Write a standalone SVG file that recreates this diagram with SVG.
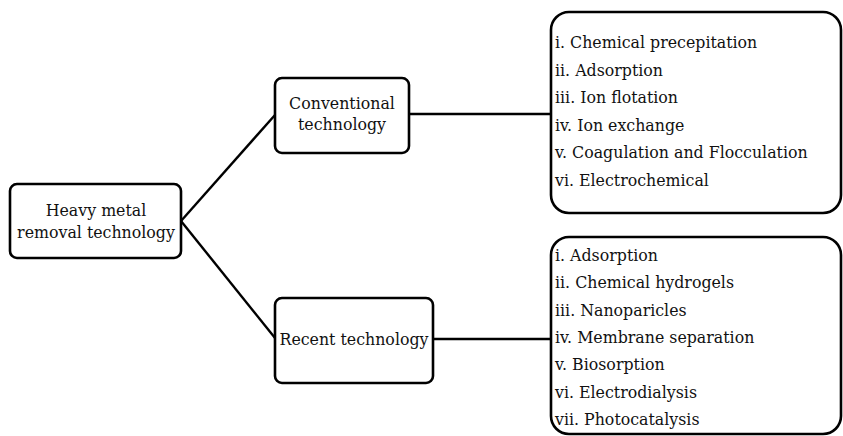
<svg xmlns="http://www.w3.org/2000/svg" width="843" height="436" viewBox="0 0 843 436">
<style>
.box{fill:#fff;stroke:#000;stroke-width:2.6}
text{font-family:'DejaVu Serif','Liberation Serif','Noto Serif',serif;font-size:15.8px;fill:#111}
.c{text-anchor:middle}
.ln{stroke:#000;stroke-width:2.4;fill:none}
</style>
<rect width="843" height="436" fill="#fff"/>
<g id="connectors">
<line class="ln" x1="181" y1="221" x2="275" y2="115"/>
<line class="ln" x1="181" y1="221" x2="275" y2="338"/>
<line class="ln" x1="409" y1="114" x2="551" y2="114"/>
<line class="ln" x1="433" y1="339" x2="551" y2="339"/>
</g>
<g id="heavy">
<rect class="box" x="10" y="184" width="171" height="74" rx="7"/>
<text class="c" x="96" y="216">Heavy metal</text>
<text class="c" x="96" y="238">removal technology</text>
</g>
<g id="conventional">
<rect class="box" x="275" y="78" width="134" height="75" rx="7"/>
<text class="c" x="342" y="109">Conventional</text>
<text class="c" x="342" y="130">technology</text>
</g>
<g id="recent">
<rect class="box" x="275" y="298" width="158" height="85" rx="7"/>
<text class="c" x="354" y="345">Recent technology</text>
</g>
<g id="conv-list">
<rect class="box" x="551" y="12" width="290" height="201" rx="18"/>
<text x="555" y="48">i. Chemical precepitation</text>
<text x="555" y="75.6">ii. Adsorption</text>
<text x="555" y="103.2">iii. Ion flotation</text>
<text x="555" y="130.8">iv. Ion exchange</text>
<text x="555" y="158.4">v. Coagulation and Flocculation</text>
<text x="555" y="186">vi. Electrochemical</text>
</g>
<g id="recent-list">
<rect class="box" x="551" y="237" width="290" height="197" rx="18"/>
<text x="555" y="261">i. Adsorption</text>
<text x="555" y="288.3">ii. Chemical hydrogels</text>
<text x="555" y="315.6">iii. Nanoparicles</text>
<text x="555" y="343">iv. Membrane separation</text>
<text x="555" y="370.3">v. Biosorption</text>
<text x="555" y="397.6">vi. Electrodialysis</text>
<text x="555" y="425">vii. Photocatalysis</text>
</g>
</svg>
